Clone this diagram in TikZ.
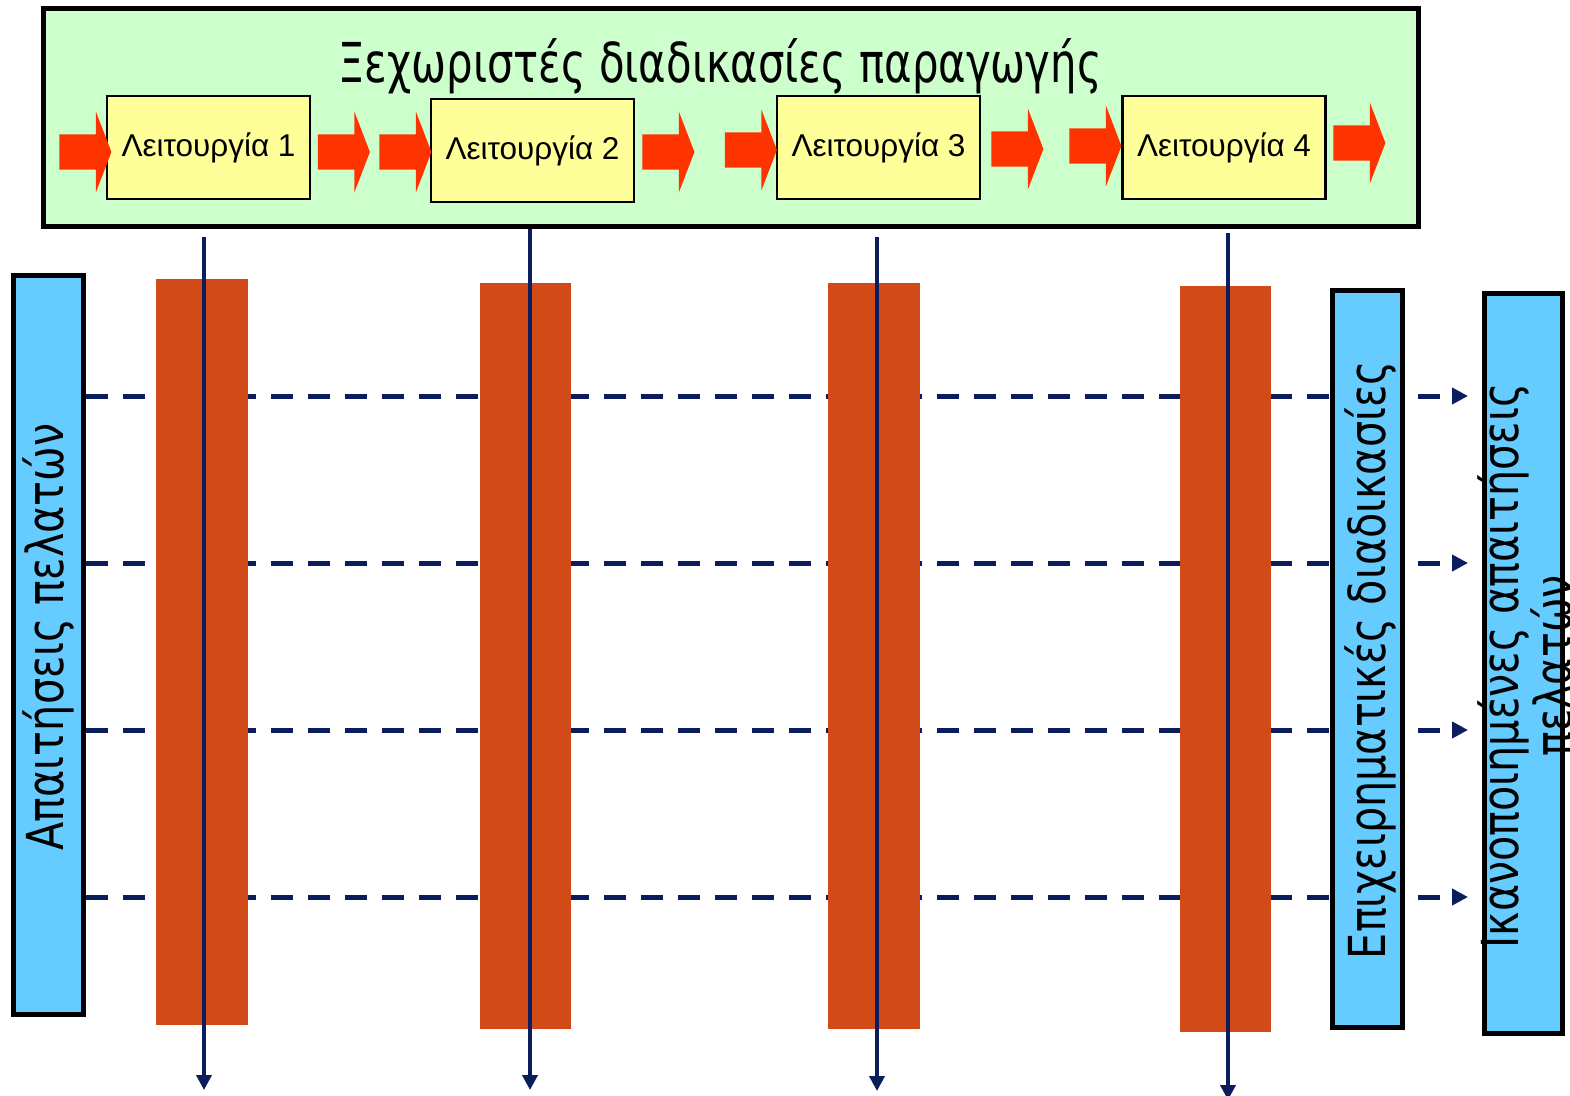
\documentclass[tikz,border=0pt]{standalone}
\usepackage{fontspec}
\setmainfont{DejaVu Sans}
\newfontfamily\boxfont{Liberation Sans}
\usetikzlibrary{arrows.meta,shapes.arrows}
\definecolor{procgreen}{HTML}{CCFFCC}
\definecolor{opyellow}{HTML}{FFFF99}
\definecolor{flowred}{HTML}{FF3300}
\definecolor{barorange}{HTML}{D24A18}
\definecolor{sideblue}{HTML}{66CCFF}
\definecolor{navy}{HTML}{0B1D5C}

\begin{document}
\begin{tikzpicture}[x=1pt,y=-1pt,
	greenframe/.style={draw=black,line width=5pt,fill=procgreen,minimum width=1375pt,minimum height=218pt,inner sep=0pt},
	opbox/.style={draw=black,line width=2.5pt,fill=opyellow,minimum width=203pt,minimum height=103pt,inner sep=0pt,font=\boxfont\fontsize{31.5}{34}\selectfont},
	flowarrow/.style={shape=single arrow,fill=flowred,draw=none,inner xsep=0pt,inner ysep=17.5pt,single arrow head extend=22.5pt,single arrow tip angle=138,minimum height=52pt},
	bar/.style={fill=barorange,inner sep=0pt,minimum width=92pt,minimum height=746pt},
	sidebox/.style={draw=black,line width=5pt,fill=sideblue,inner sep=0pt,minimum width=70pt},
	sidetext/.style={rotate=90,xscale=0.81,font=\fontsize{51}{47}\selectfont,align=center,inner sep=0pt},
	reqline/.style={navy,line width=5pt,dash pattern=on 22pt off 15pt,-{Triangle[length=16pt,width=16pt]}},
	opline/.style={navy,line width=4pt,-{Triangle[length=15pt,width=15pt]}}]
	\useasboundingbox (0,0) rectangle (1570,1095);
	% production processes
	\node[greenframe] (prod) at (731,117.5) {};
	\node[anchor=base,xscale=0.76,font=\fontsize{55}{60}\selectfont] (title) at (720,82) {Ξεχωριστές διαδικασίες παραγωγής};
	\node[opbox] (op1) at (208.5,147.5) {Λειτουργία 1};
	\node[opbox] (op2) at (532.5,150.5) {Λειτουργία 2};
	\node[opbox] (op3) at (878.5,147.5) {Λειτουργία 3};
	\node[opbox] (op4) at (1224,147.5) {Λειτουργία 4};
	\node[flowarrow] (in1) at (82,152) {};
	\node[flowarrow] (out1) at (340.5,152) {};
	\node[flowarrow] (in2) at (402,152) {};
	\node[flowarrow] (out2) at (665,152) {};
	\node[flowarrow] (in3) at (747.5,150) {};
	\node[flowarrow] (out3) at (1014,149) {};
	\node[flowarrow] (in4) at (1092,146) {};
	\node[flowarrow] (out4) at (1356,143) {};
	% customer requirements
	\node[sidebox,minimum height=739pt] (req) at (48.5,645) {};
	\coordinate (r1) at (1468,396);
	\coordinate (r2) at (1468,563);
	\coordinate (r3) at (1468,730);
	\coordinate (r4) at (1468,897);
	\foreach \r in {r1,r2,r3,r4}
		\draw[reqline] (req.east |- \r) -- (\r);
	\node[bar] (bar1) at (202,652) {};
	\node[bar,minimum width=91pt] (bar2) at (525.5,656) {};
	\node[bar] (bar3) at (874,656) {};
	\node[bar,minimum width=91pt] (bar4) at (1225.5,659) {};
	\node[sidebox,minimum height=737pt] (proc) at (1367.5,659) {};
	\node[sidebox,minimum width=78pt,minimum height=740pt] (sat) at (1523.5,663.5) {};
	\node[sidetext] (reqtext) at (48,637) {Απαιτήσεις πελατών};
	\node[sidetext] (proctext) at (1370,660) {Επιχειρηματικές διαδικασίες};
	\node[sidetext] (sattext) at (1525,666) {Ικανοποιημένες απαιτήσεις\\πελατών};
	% operations
	\coordinate (t1) at (204,237);
	\coordinate (b1) at (204,1090);
	\coordinate (t2) at (530,229);
	\coordinate (b2) at (530,1090);
	\coordinate (t3) at (877,237);
	\coordinate (b3) at (877,1091);
	\coordinate (t4) at (1228,233);
	\coordinate (b4) at (1228,1100);
	\foreach \i in {1,2,3,4}
		\draw[opline] (t\i) -- (b\i);
\end{tikzpicture}
\end{document}
